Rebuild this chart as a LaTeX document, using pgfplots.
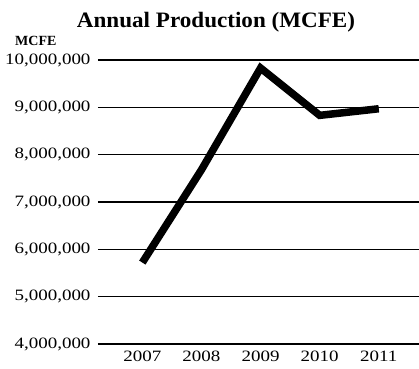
\documentclass[border=0pt]{standalone}
\usepackage{pgfplots}
\pgfplotsset{compat=1.18}
\usepackage{fontspec}
\setmainfont{Liberation Serif}
\newfontfamily\tickfont[FakeStretch=1.2]{Liberation Serif}
\newfontfamily\titlefont[FakeStretch=1.05]{Liberation Serif}
\begin{document}
\begin{tikzpicture}
\begin{axis}[
  name=ax,
  scale only axis,
  width=321bp, height=284bp,
  xmin=2006.25, xmax=2011.68,
  ymin=4000000, ymax=10000000,
  scaled y ticks=false,
  xtick={2007,2008,2009,2010,2011},
  xticklabels={2007,2008,2009,2010,2011},
  ytick={4000000,5000000,6000000,7000000,8000000,9000000,10000000},
  yticklabels={{4,000,000},{5,000,000},{6,000,000},{7,000,000},{8,000,000},{9,000,000},{10,000,000}},
  ymajorgrids,
  major grid style={black, line width=1.2bp},
  axis line style={draw=none},
  major tick length=0pt,
  tick label style={font=\tickfont\fontsize{15.8bp}{18bp}\selectfont},
  yticklabel style={xshift=-4bp},
  xticklabel style={yshift=-3bp},
  clip=false,
]
\addplot[black, line width=7.5bp, line join=miter] coordinates {
  (2007,5720000) (2008,7680000) (2009,9830000) (2010,8830000) (2011,8970000)
};
\node[anchor=base, font=\titlefont\bfseries\fontsize{22bp}{24bp}\selectfont] at ([yshift=32bp]rel axis cs:0.3676,1) {Annual Production (MCFE)};
\node[anchor=base west, inner sep=0pt, font=\bfseries\fontsize{14bp}{16bp}\selectfont] at ([xshift=-83bp,yshift=14bp]rel axis cs:0,1) {MCFE};
\end{axis}
\pgfresetboundingbox
\path ([xshift=-98bp,yshift=-25bp]ax.south west) rectangle ([yshift=60bp]ax.north east);
\end{tikzpicture}
\end{document}
